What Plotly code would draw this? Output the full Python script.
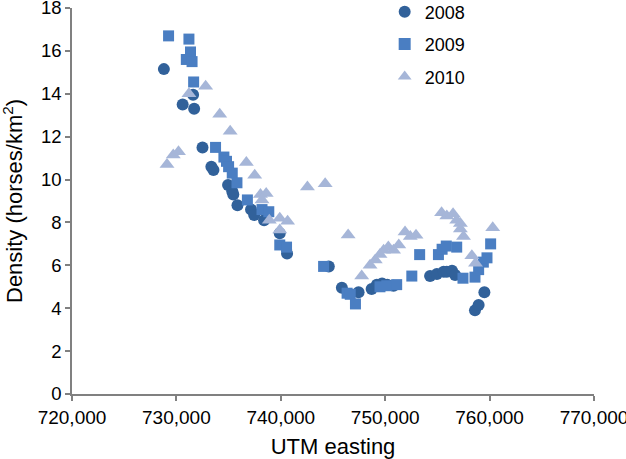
import plotly.graph_objects as go

x2008 = [728800, 730600, 731600, 731700, 732500, 733350, 733550, 734950, 735350, 735450,
         735850, 737150, 737450, 738400, 739900, 740600, 744600, 745850, 747450, 748700,
         749200, 749700, 750200, 750800, 754300, 754950, 755600, 755900, 756400, 756700,
         758600, 758950, 759500]
y2008 = [15.15, 13.5, 13.95, 13.3, 11.5, 10.6, 10.45, 9.75, 9.45, 9.3,
         8.8, 8.6, 8.35, 8.1, 7.5, 6.55, 5.95, 4.95, 4.75, 4.9,
         5.1, 5.15, 5.1, 5.05, 5.5, 5.6, 5.7, 5.7, 5.75, 5.55,
         3.9, 4.15, 4.75]

x2009 = [729250, 731200, 731350, 730950, 731500, 731650, 733750, 734550, 734800, 735000,
         735350, 735800, 736800, 738200, 738850, 739900, 740550, 744100, 746350, 746650,
         747150, 749500, 750150, 751100, 752550, 753300, 755100, 755450, 755850, 756850,
         757450, 758600, 758950, 759400, 759750, 760100]
y2009 = [16.7, 16.55, 15.95, 15.6, 15.5, 14.55, 11.5, 11.05, 10.85, 10.6,
         10.3, 9.85, 9.05, 8.6, 8.5, 6.95, 6.85, 5.95, 4.7, 4.65,
         4.2, 5.0, 5.05, 5.1, 5.5, 6.5, 6.5, 6.75, 6.9, 6.85,
         5.4, 5.45, 5.8, 6.15, 6.35, 7.0]

x2010 = [729100, 729700, 730200, 731200, 732800, 734150, 735150, 736700, 737500, 738050,
         738600, 738200, 738900, 739900, 740650, 739900, 742550, 744250, 746450, 747750,
         748550, 749050, 749500, 749850, 750300, 750800, 751300, 751900, 752400, 752950,
         755400, 755900, 756500, 756850, 757200, 757200, 757500, 758300, 758650, 760300]
y2010 = [10.7, 11.15, 11.3, 14.0, 14.35, 13.05, 12.25, 10.8, 10.2, 9.3,
         9.35, 9.05, 8.1, 8.2, 8.05, 7.65, 9.65, 9.8, 7.42, 5.5,
         6.0, 6.25, 6.5, 6.7, 6.85, 6.7, 6.95, 7.55, 7.35, 7.4,
         8.45, 8.3, 8.4, 8.1, 7.95, 7.7, 7.35, 6.45, 6.1, 7.75]

x_ticks = [720000, 730000, 740000, 750000, 760000, 770000]
y_ticks = [0, 2, 4, 6, 8, 10, 12, 14, 16, 18]

FONT = "Arial, Liberation Sans, sans-serif"

fig = go.Figure()
fig.add_trace(go.Scatter(x=x2008, y=y2008, mode="markers", name="2008", legendgroup="a",
                         marker=dict(symbol="circle", size=12, color="#31619A", line=dict(width=0))))
fig.add_trace(go.Scatter(x=x2009, y=y2009, mode="markers", name="2009", legendgroup="b",
                         marker=dict(symbol="square", size=11, color="#4A7EC2", line=dict(width=0))))
fig.add_trace(go.Scatter(x=x2010, y=y2010, mode="markers", name="2010", legendgroup="c",
                         marker=dict(symbol="triangle-up", size=13, color="#A6B6D8", line=dict(width=0))))

axis_common = dict(showgrid=False, zeroline=False, showline=True, linecolor="#808080", linewidth=1.5,
                   ticks="outside", ticklen=5, tickcolor="#808080", tickwidth=1.5,
                   ticklabeloverflow="allow")

fig.update_layout(
    width=626, height=459,
    margin=dict(l=72, r=32, t=8, b=65, autoexpand=False),
    plot_bgcolor="white", paper_bgcolor="white",
    font=dict(family=FONT, color="#000000"),
    xaxis=dict(range=[720000, 770000], tickvals=x_ticks,
               ticktext=[f"{v:,}" for v in x_ticks],
               tickfont=dict(family=FONT, size=19, color="#000000"),
               title=dict(text="UTM easting", font=dict(family=FONT, size=22), standoff=12),
               automargin=False,
               **axis_common),
    yaxis=dict(range=[0, 18], tickvals=y_ticks,
               tickfont=dict(family=FONT, size=18.5, color="#000000"),
               automargin=False,
               **axis_common),
    legend=dict(x=0.599, y=1.0376, xanchor="left", yanchor="top", bgcolor="rgba(0,0,0,0)",
                font=dict(family=FONT, size=18), tracegroupgap=6, itemsizing="constant"),
    showlegend=True,
)

fig.add_annotation(text="Density (horses/km<sup>2</sup>)", xref="paper", yref="paper",
                   x=0, y=0.5, xanchor="center", yanchor="middle", xshift=-59,
                   textangle=-90, showarrow=False, font=dict(family=FONT, size=22, color="#000000"))

fig.write_html("out.html", config={"displayModeBar": False},
               post_script="document.body.style.margin='0';document.body.style.overflow='hidden';")
